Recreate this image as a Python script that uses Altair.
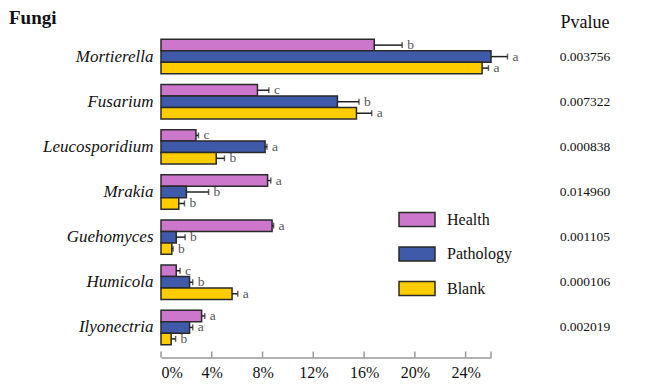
import altair as alt
import pandas as pd

genera = ["Mortierella", "Fusarium", "Leucosporidium", "Mrakia", "Guehomyces", "Humicola", "Ilyonectria"]
groups = ["Health", "Pathology", "Blank"]
colors = ["#CC77CC", "#3F5AA8", "#FFCC00"]

health = [16.8, 7.6, 2.75, 8.4, 8.75, 1.2, 3.2]
health_sd = [2.2, 0.9, 0.2, 0.25, 0.12, 0.3, 0.25]
health_letters = ["b", "c", "c", "a", "a", "c", "a"]

pathology = [26.0, 13.9, 8.2, 2.0, 1.2, 2.25, 2.25]
pathology_sd = [1.3, 1.7, 0.15, 1.75, 0.7, 0.25, 0.25]
pathology_letters = ["a", "b", "a", "b", "b", "b", "a"]

blank = [25.3, 15.4, 4.35, 1.4, 0.85, 5.6, 0.8]
blank_sd = [0.5, 1.2, 0.65, 0.45, 0.1, 0.45, 0.35]
blank_letters = ["a", "a", "b", "b", "b", "a", "b"]

pvalues = ["0.003756", "0.007322", "0.000838", "0.014960", "0.001105", "0.000106", "0.002019"]
tick_values = [0, 4, 8, 12, 16, 20, 24]

rows = []
for g, vals, sds, lets in [("Health", health, health_sd, health_letters),
                           ("Pathology", pathology, pathology_sd, pathology_letters),
                           ("Blank", blank, blank_sd, blank_letters)]:
    for gen, v, s, l in zip(genera, vals, sds, lets):
        rows.append({"genus": gen, "group": g, "value": v, "err": v + s, "letter": l})
df = pd.DataFrame(rows)
pv = pd.DataFrame({"genus": genera, "p": pvalues})
ticks = pd.DataFrame({"t": tick_values + [26]})

W, H = 330, 331
SERIF = "Liberation Serif"

yenc = alt.Y("genus:N", sort=genera, title=None,
             scale=alt.Scale(paddingInner=0.236, paddingOuter=0.285),
             axis=alt.Axis(domain=False, ticks=False, labelFont=SERIF, labelFontStyle="italic",
                           labelFontSize=17, labelColor="#111", labelPadding=8))
yoff = alt.YOffset("group:N", sort=groups, scale=alt.Scale(domain=groups, paddingInner=0, paddingOuter=0))
xscale = alt.Scale(domain=[0, 26], nice=False)

base = alt.Chart(df).encode(y=yenc, yOffset=yoff)

bars = base.mark_bar(stroke="#2a2a2a", strokeWidth=1.5).encode(
    x=alt.X("value:Q", scale=xscale, title=None,
            axis=alt.Axis(values=tick_values, labelExpr="datum.value + '%'", ticks=False, grid=False,
                          domainColor="#999", domainWidth=1.5, labelFont=SERIF, labelFontSize=16,
                          labelColor="#111", labelPadding=7)),
    color=alt.Color("group:N", sort=groups, scale=alt.Scale(domain=groups, range=colors),
                    legend=alt.Legend(title=None, orient="none", legendX=237, legendY=174,
                                      symbolType="M-1,-0.39H1V0.39H-1Z", symbolSize=1296,
                                      symbolStrokeColor="#2a2a2a", symbolStrokeWidth=1.5,
                                      symbolOpacity=1, labelFont=SERIF, labelFontSize=16,
                                      labelColor="#111", labelOffset=11, rowPadding=4.5, padding=0)),
)

err = base.mark_rule(color="#222", strokeWidth=1.5).encode(x="value:Q", x2="err:Q")
caps = base.mark_tick(color="#222", thickness=1.5, size=6, orient="vertical").encode(x="err:Q")
letters = base.mark_text(align="left", baseline="middle", dx=5, font=SERIF, fontSize=13.5,
                         color="#555").encode(x="err:Q", text="letter:N")

axis_ticks = alt.Chart(ticks).mark_rule(color="#999", strokeWidth=1.5).encode(
    x=alt.X("t:Q", scale=xscale), y=alt.value(H - 6), y2=alt.value(H))

ptext = alt.Chart(pv).mark_text(font=SERIF, fontSize=13.5, color="#111").encode(
    y=alt.Y("genus:N", sort=genera), x=alt.value(424), text="p:N")

header = pd.DataFrame({"t": ["Pvalue"], "f": ["Fungi"]})
phead = alt.Chart(header).mark_text(font=SERIF, fontSize=18, color="#111").encode(
    x=alt.value(424), y=alt.value(-4), text="t:N")
fungi = alt.Chart(header).mark_text(font=SERIF, fontSize=19, fontWeight="bold", color="#111",
                                    align="left", baseline="alphabetic").encode(
    x=alt.value(-152), y=alt.value(-2.5), text="f:N")

chart = alt.layer(bars, err, caps, letters, axis_ticks, ptext, phead, fungi).properties(
    width=W, height=H,
    autosize=alt.AutoSizeParams(type="none"),
    padding={"left": 153, "top": 18.5, "right": 150, "bottom": 24},
    background="white",
).configure_view(stroke=None)

chart.save("out.html", embed_options={"renderer": "svg", "actions": False})
